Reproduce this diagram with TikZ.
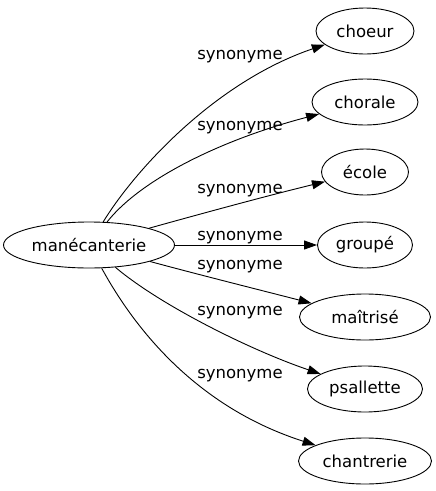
\documentclass[tikz,border=0pt]{standalone}
\usepackage{fontspec}
\setmainfont{DejaVu Sans}
\usetikzlibrary{shapes.geometric,arrows.meta}
\begin{document}
\begin{tikzpicture}[x=1pt,y=-1pt,
  word/.style={draw,ellipse,line width=0.9pt,inner sep=0pt,minimum height=46pt,font=\fontsize{16.5}{18}\selectfont},
  rel/.style={font=\fontsize{16.5}{18}\selectfont,inner sep=0pt,anchor=base},
  link/.style={line width=0.9pt,-{Triangle[length=13pt,width=9pt]}}]
\useasboundingbox (0,0) rectangle (436,491);
\node[word,minimum width=171pt] (m) at (89,245) {manécanterie};
\node[word,minimum width=98pt] (n1) at (365,31) {choeur};
\node[word,minimum width=106pt] (n2) at (365,102) {chorale};
\node[word,minimum width=87pt] (n3) at (365,172) {école};
\node[word,minimum width=95pt] (n4) at (365,245) {groupé};
\node[word,minimum width=131pt] (n5) at (365,317) {maîtrisé};
\node[word,minimum width=115pt] (n6) at (365,389) {psallette};
\node[word,minimum width=133pt] (n7) at (365,461) {chantrerie};
\draw[link] (m) .. controls (135,170) and (215,82) .. (n1);
\draw[link] (m) .. controls (140,180) and (220,140) .. (n2);
\draw[link] (m) .. controls (200,214) and (270,195) .. (n3);
\draw[link] (m) -- (n4);
\draw[link] (m) .. controls (200,275) and (260,290) .. (n5);
\draw[link] (m) .. controls (160,305) and (250,350) .. (n6);
\draw[link] (m) .. controls (130,320) and (190,405) .. (n7);
\node[rel] (l1) at (240,59) {synonyme};
\node[rel] (l2) at (240,130.5) {synonyme};
\node[rel] (l3) at (240,193.5) {synonyme};
\node[rel] (l4) at (240,240) {synonyme};
\node[rel] (l5) at (240,269.5) {synonyme};
\node[rel] (l6) at (240,315) {synonyme};
\node[rel] (l7) at (240,378) {synonyme};
\end{tikzpicture}
\end{document}
